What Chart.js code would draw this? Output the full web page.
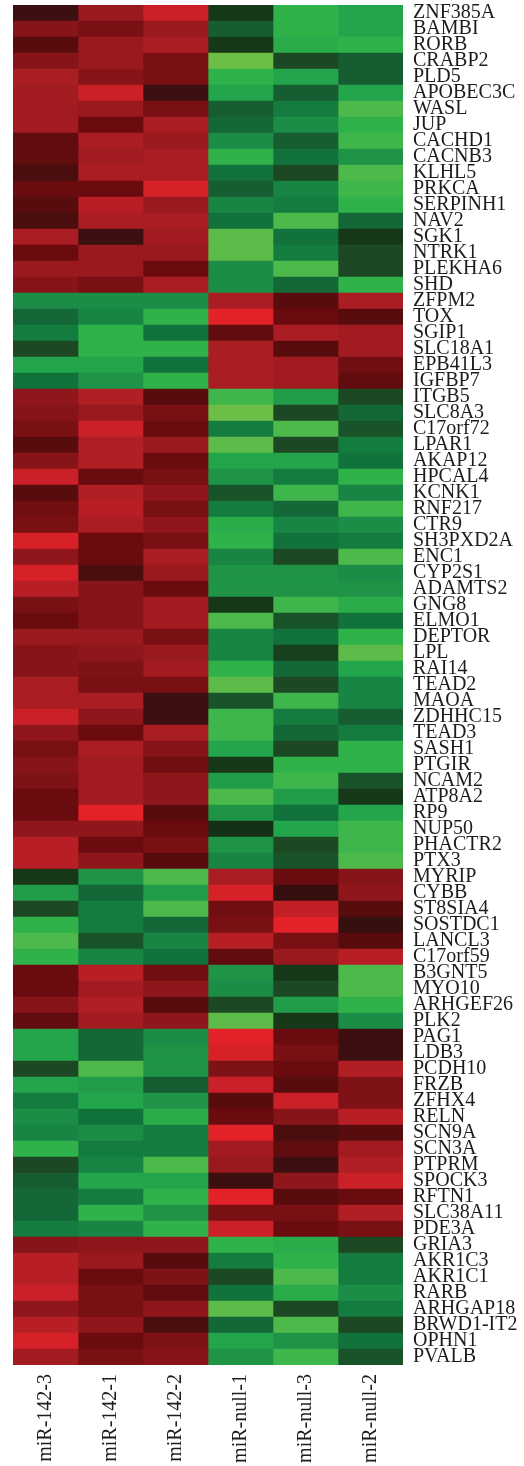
<!DOCTYPE html>
<html>
<head>
<meta charset="utf-8">
<script src="https://cdn.jsdelivr.net/npm/chart.js@4/dist/chart.umd.min.js"></script>
<style>
  html, body { margin: 0; padding: 0; background: #ffffff; }
  #wrap { width: 524px; height: 1466px; }
</style>
</head>
<body>
<div id="wrap"><canvas id="heat" width="524" height="1466"></canvas></div>
<script>
// Samples (columns) in display order
const samples = ['miR-142-3', 'miR-142-1', 'miR-142-2', 'miR-null-1', 'miR-null-3', 'miR-null-2'];

// Genes (rows), top to bottom
const genes = [
  'ZNF385A','BAMBI','RORB','CRABP2','PLD5','APOBEC3C','WASL','JUP','CACHD1','CACNB3',
  'KLHL5','PRKCA','SERPINH1','NAV2','SGK1','NTRK1','PLEKHA6','SHD','ZFPM2','TOX',
  'SGIP1','SLC18A1','EPB41L3','IGFBP7','ITGB5','SLC8A3','C17orf72','LPAR1','AKAP12','HPCAL4',
  'KCNK1','RNF217','CTR9','SH3PXD2A','ENC1','CYP2S1','ADAMTS2','GNG8','ELMO1','DEPTOR',
  'LPL','RAI14','TEAD2','MAOA','ZDHHC15','TEAD3','SASH1','PTGIR','NCAM2','ATP8A2',
  'RP9','NUP50','PHACTR2','PTX3','MYRIP','CYBB','ST8SIA4','SOSTDC1','LANCL3','C17orf59',
  'B3GNT5','MYO10','ARHGEF26','PLK2','PAG1','LDB3','PCDH10','FRZB','ZFHX4','RELN',
  'SCN9A','SCN3A','PTPRM','SPOCK3','RFTN1','SLC38A11','PDE3A','GRIA3','AKR1C3','AKR1C1',
  'RARB','ARHGAP18','BRWD1-IT2','OPHN1','PVALB'
];

// Scaled expression per sample (positive = up, negative = down), one value per gene
const mir142_3 = [
  0.1,0.5,0.2,0.5,0.7,0.65,0.65,0.65,0.25,0.25,
  0.15,0.3,0.2,0.15,0.7,0.3,0.6,0.5,-0.55,-0.35,
  -0.45,-0.2,-0.7,-0.4,0.55,0.5,0.4,0.2,0.5,0.9,
  0.2,0.35,0.4,0.95,0.55,0.95,0.8,0.4,0.3,0.6,
  0.5,0.5,0.7,0.7,0.9,0.55,0.4,0.5,0.45,0.3,
  0.3,0.55,0.8,0.8,-0.1,-0.65,-0.2,-0.8,-0.9,-0.8,
  0.3,0.3,0.5,0.25,-0.7,-0.7,-0.2,-0.7,-0.45,-0.55,
  -0.5,-0.8,-0.2,-0.3,-0.35,-0.35,-0.45,0.5,0.8,0.8,
  0.9,0.55,0.8,0.95,0.65
];
const mir142_1 = [
  0.6,0.4,0.6,0.6,0.5,0.9,0.6,0.3,0.7,0.65,
  0.7,0.3,0.8,0.7,0.1,0.6,0.6,0.4,-0.55,-0.5,
  -0.8,-0.8,-0.7,-0.6,0.75,0.6,0.9,0.75,0.75,0.3,
  0.75,0.8,0.7,0.3,0.3,0.15,0.5,0.5,0.5,0.6,
  0.55,0.45,0.4,0.7,0.55,0.3,0.7,0.65,0.65,0.65,
  1.0,0.55,0.3,0.55,-0.6,-0.35,-0.45,-0.45,-0.25,-0.5,
  0.8,0.65,0.75,0.65,-0.35,-0.35,-0.9,-0.65,-0.7,-0.4,
  -0.55,-0.45,-0.5,-0.7,-0.45,-0.8,-0.5,0.55,0.6,0.3,
  0.4,0.4,0.55,0.3,0.4
];
const mir142_2 = [
  0.9,0.6,0.7,0.4,0.4,0.1,0.4,0.7,0.6,0.7,
  0.7,0.95,0.6,0.7,0.65,0.6,0.3,0.7,-0.55,-0.8,
  -0.4,-0.8,-0.4,-0.8,0.2,0.4,0.3,0.6,0.3,0.4,
  0.55,0.4,0.55,0.4,0.7,0.6,0.3,0.65,0.65,0.4,
  0.6,0.65,0.4,0.1,0.1,0.7,0.5,0.35,0.55,0.55,
  0.2,0.3,0.4,0.2,-0.9,-0.65,-0.9,-0.35,-0.5,-0.4,
  0.35,0.55,0.2,0.55,-0.55,-0.6,-0.6,-0.3,-0.6,-0.75,
  -0.45,-0.45,-0.9,-0.7,-0.8,-0.6,-0.8,0.55,0.2,0.45,
  0.25,0.55,0.15,0.45,0.5
];
const mirNull_1 = [
  -0.1,-0.3,-0.1,-1.0,-0.8,-0.7,-0.3,-0.35,-0.55,-0.8,
  -0.4,-0.3,-0.5,-0.4,-0.95,-0.95,-0.55,-0.55,0.7,1.0,
  0.25,0.7,0.7,0.7,-0.85,-1.0,-0.45,-0.95,-0.7,-0.6,
  -0.25,-0.45,-0.75,-0.8,-0.5,-0.6,-0.6,-0.1,-0.9,-0.5,
  -0.5,-0.8,-0.95,-0.25,-0.85,-0.85,-0.7,-0.1,-0.65,-0.9,
  -0.6,-0.05,-0.6,-0.5,0.7,0.95,0.35,0.4,0.8,0.25,
  -0.6,-0.55,-0.2,-0.95,1.0,0.95,0.45,0.9,0.2,0.3,
  1.0,0.65,0.6,0.1,1.0,0.4,0.9,-0.8,-0.45,-0.2,
  -0.4,-0.95,-0.35,-0.7,-0.6
];
const mirNull_3 = [
  -0.8,-0.8,-0.75,-0.2,-0.7,-0.3,-0.45,-0.55,-0.3,-0.4,
  -0.2,-0.5,-0.45,-0.9,-0.4,-0.45,-0.9,-0.35,0.2,0.3,
  0.7,0.2,0.65,0.65,-0.65,-0.2,-0.9,-0.2,-0.7,-0.45,
  -0.85,-0.35,-0.5,-0.4,-0.2,-0.6,-0.6,-0.85,-0.25,-0.4,
  -0.15,-0.35,-0.2,-0.85,-0.45,-0.35,-0.2,-0.8,-0.85,-0.65,
  -0.4,-0.7,-0.2,-0.25,0.3,0.05,0.85,1.0,0.4,0.6,
  -0.1,-0.2,-0.65,-0.1,0.3,0.4,0.3,0.2,0.9,0.5,
  0.15,0.25,0.1,0.55,0.2,0.4,0.3,-0.75,-0.8,-0.9,
  -0.75,-0.2,-0.9,-0.6,-0.85
];
const mirNull_2 = [
  -0.7,-0.7,-0.8,-0.3,-0.3,-0.7,-0.9,-0.8,-0.85,-0.6,
  -0.9,-0.85,-0.8,-0.35,-0.1,-0.2,-0.2,-0.8,0.7,0.2,
  0.65,0.65,0.35,0.25,-0.2,-0.35,-0.25,-0.45,-0.4,-0.8,
  -0.5,-0.85,-0.55,-0.45,-0.9,-0.55,-0.6,-0.75,-0.4,-0.8,
  -0.95,-0.7,-0.5,-0.5,-0.3,-0.45,-0.8,-0.8,-0.25,-0.1,
  -0.7,-0.85,-0.85,-0.9,0.5,0.55,0.2,0.05,0.2,0.8,
  -0.9,-0.9,-0.8,-0.55,0.1,0.1,0.75,0.45,0.45,0.8,
  0.2,0.65,0.75,0.9,0.3,0.75,0.4,-0.2,-0.45,-0.45,
  -0.55,-0.45,-0.2,-0.4,-0.25
];

const columns = [mir142_3, mir142_1, mir142_2, mirNull_1, mirNull_3, mirNull_2];

// Red / green colour ramps, sampled every 0.1 of |value|
const redRamp = [[45,14,14],[62,15,16],[88,12,14],[106,12,15],[120,16,20],[134,20,25],
                 [152,25,30],[170,29,34],[184,31,37],[202,32,39],[226,33,40]];
const greenRamp = [[18,40,20],[22,56,25],[28,72,35],[22,94,49],[18,114,60],[24,133,68],
                   [31,148,71],[35,165,75],[48,178,75],[78,185,75],[108,190,70]];

function cellColor(v) {
  const ramp = v >= 0 ? redRamp : greenRamp;
  const t = Math.min(1, Math.abs(v)) * 10;
  const i = Math.min(9, Math.floor(t));
  const f = t - i;
  const a = ramp[i], b = ramp[i + 1];
  const c = a.map((x, k) => Math.round(x + (b[k] - x) * f));
  return `rgb(${c[0]},${c[1]},${c[2]})`;
}

const labelFont = { family: "'Liberation Serif', 'DejaVu Serif', serif", size: 20 };
const textColor = '#1c1c1c';

const datasets = samples.map((name, k) => ({
  label: name,
  data: genes.map(() => 1),
  backgroundColor: columns[k].map(cellColor),
  borderWidth: 0,
  barPercentage: 1,
  categoryPercentage: 1,
  xAxisID: 'x',
  yAxisID: 'y'
}));

new Chart(document.getElementById('heat'), {
  type: 'bar',
  data: { labels: genes, datasets },
  options: {
    indexAxis: 'y',
    responsive: false,
    animation: false,
    layout: { padding: { top: 5, left: 13, right: 0, bottom: 0 } },
    plugins: { legend: { display: false }, tooltip: { enabled: false } },
    scales: {
      x: { type: 'linear', stacked: true, min: 0, max: 6, display: false },
      samplesAxis: {
        type: 'category',
        axis: 'x',
        labels: samples,
        position: 'bottom',
        offset: true,
        grid: { display: false, drawTicks: false },
        border: { display: false },
        ticks: {
          autoSkip: false,
          minRotation: 90,
          maxRotation: 90,
          padding: 9,
          font: labelFont,
          color: textColor
        },
        afterFit(scale) {
          scale.height = 101;
          scale.paddingLeft = 0;
          scale.paddingRight = 0;
        }
      },
      y: {
        type: 'category',
        position: 'right',
        stacked: true,
        offset: true,
        grid: { display: false, drawTicks: false },
        border: { display: false },
        ticks: {
          autoSkip: false,
          padding: 10,
          font: labelFont,
          color: textColor
        },
        afterFit(scale) {
          scale.width = 121;
          scale.paddingTop = 0;
          scale.paddingBottom = 0;
        }
      }
    }
  }
});
</script>
</body>
</html>
